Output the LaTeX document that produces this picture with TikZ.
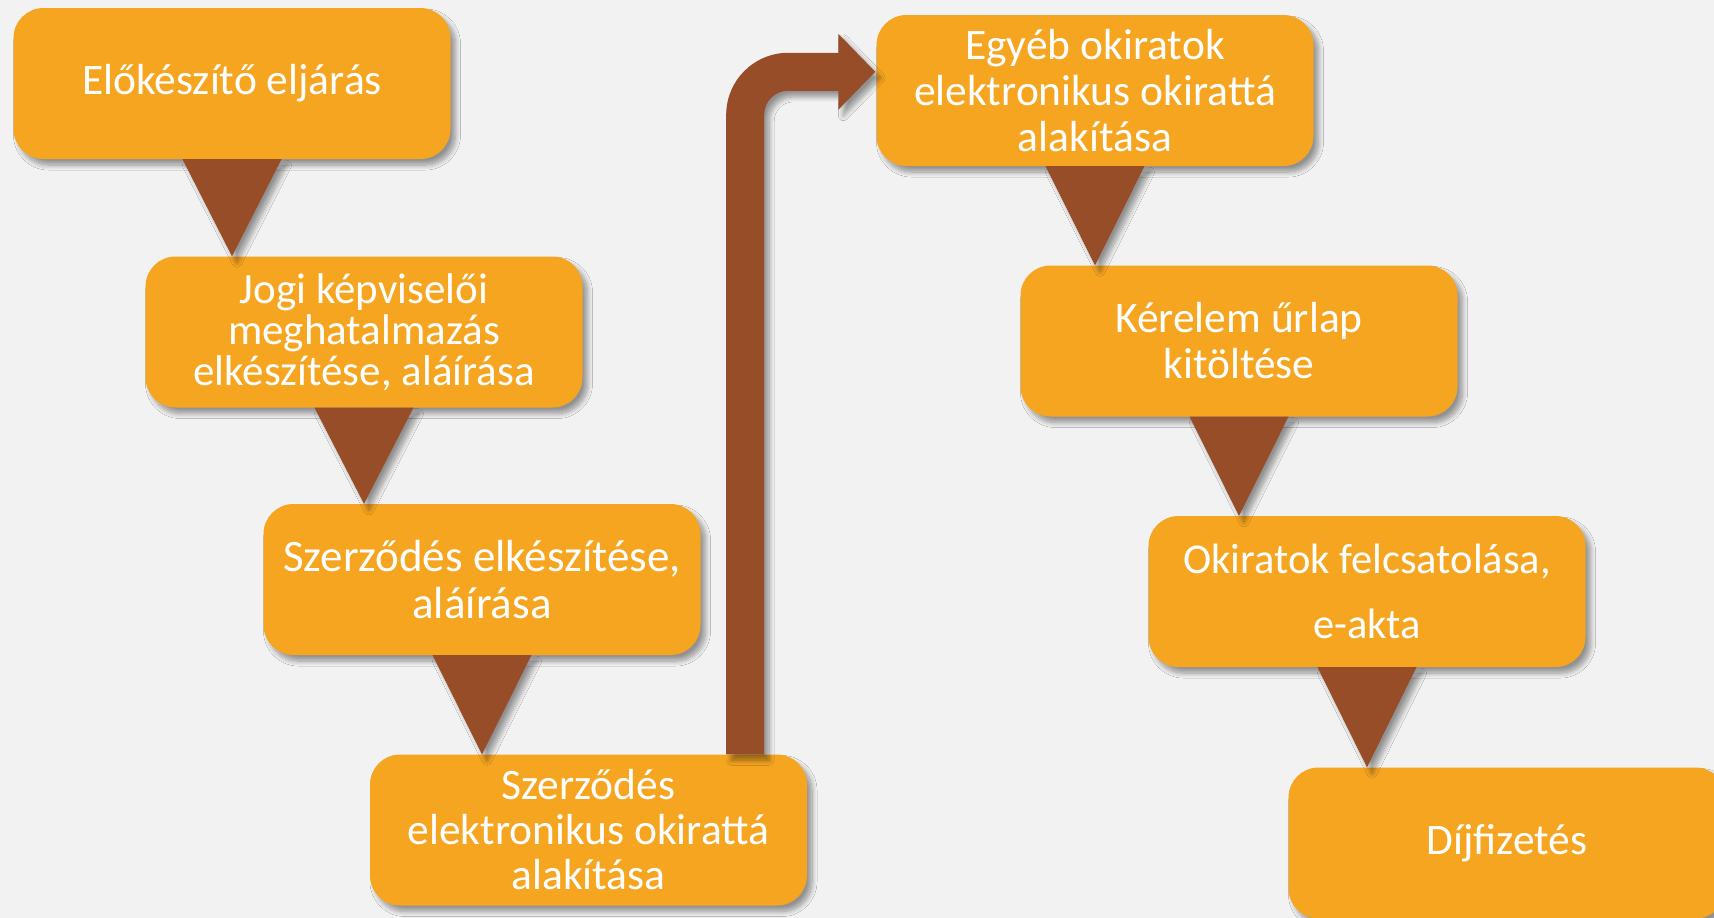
\documentclass[tikz,border=0pt]{standalone}
\usepackage{fontspec}
\setmainfont{Carlito}
\usetikzlibrary{calc,shadows.blur}
\definecolor{bg}{HTML}{F2F2F2}
\definecolor{boxor}{HTML}{F6A521}
\definecolor{arrbrown}{HTML}{974E28}
\begin{document}
\begin{tikzpicture}[x=1pt,y=-1pt,
  softshadow/.style={blur shadow={shadow xshift=5pt, shadow yshift=-6pt, shadow blur radius=5pt, shadow blur steps=10, shadow opacity=40}},
  stepbox/.style={fill=boxor, rounded corners=30pt, minimum width=437pt, minimum height=151pt,
    inner sep=0pt, text=white, align=center, font=\fontsize{43.5}{46}\selectfont, softshadow},
  conn/.style={fill=arrbrown, softshadow}]
\fill[bg] (0,0) rectangle (1714,918);
\clip (0,0) rectangle (1714,918);

% boxes
\node[stepbox] (b1) at (232,83.5) {Előkészítő eljárás};
\node[stepbox, font=\fontsize{43}{41}\selectfont] (b2) at (364,332) {Jogi képviselői\\meghatalmazás\\elkészítése, aláírása};
\node[stepbox, font=\fontsize{45}{47}\selectfont] (b3) at (482,579.5) {Szerződés elkészítése,\\aláírása};
\node[stepbox, font=\fontsize{43.5}{45}\selectfont] (b4) at (588.5,830) {Szerződés\\elektronikus okirattá\\alakítása};
\node[stepbox] (b5) at (1095,90.5) {Egyéb okiratok\\elektronikus okirattá\\alakítása};
\node[stepbox] (b6) at (1239,341) {Kérelem űrlap\\kitöltése};
\node[stepbox, font=\fontsize{42.5}{65}\selectfont] (b7) at (1367,591.5) {Okiratok felcsatolása,\\e-akta};
\node[stepbox] (b8) at (1507,843) {Díjfizetés};

% triangle connectors
\foreach \a/\b in {b1/b2, b2/b3, b3/b4, b5/b6, b6/b7, b7/b8}{
  \fill[conn] ($(\a.south)+(-49.5,0)$) -- ($(\a.south)+(49.5,0)$) -- (\a.south |- \b.north) -- cycle;
}

% bent arrow from b4 to b5
\coordinate (s) at ($(b4.north east)+(-62,0)$);
\coordinate (t) at ($(b5.north west)+(-1,57)$);
\coordinate (c) at (s |- t);
\fill[conn] ($(s)+(-19,0)$) -- ($(c)+(-19,43)$)
  .. controls ($(c)+(-19,8.76)$) and ($(c)+(8.76,-19)$) .. ($(c)+(43,-19)$)
  -- ($(t)+(-37,-19)$) -- ($(t)+(-37,-38)$) -- (t) -- ($(t)+(-37,38)$) -- ($(t)+(-37,19)$)
  -- ($(c)+(43,19)$)
  .. controls ($(c)+(29.74,19)$) and ($(c)+(19,29.74)$) .. ($(c)+(19,43)$)
  -- ($(s)+(19,0)$) -- cycle;
\end{tikzpicture}
\end{document}
